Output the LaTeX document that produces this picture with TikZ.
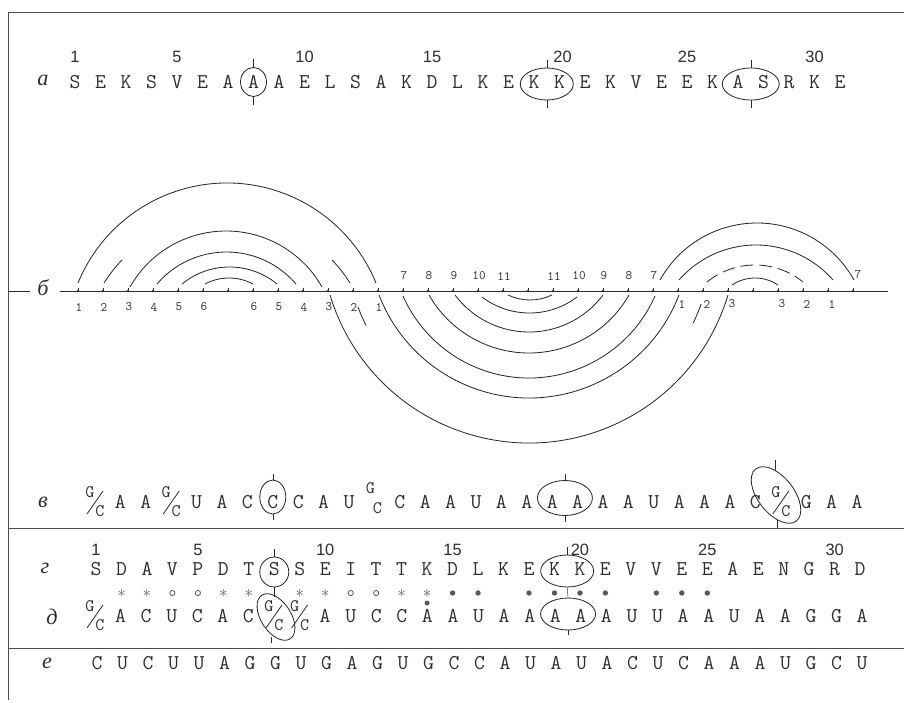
\documentclass[tikz,border=0pt]{standalone}
\usepackage{fontspec}
\usetikzlibrary{shapes.geometric,calc}
\newfontfamily\numfont{Liberation Sans}
\newfontfamily\lblfont{Liberation Serif}
\newlength\pxl
\setlength\pxl{0.03cm}
\definecolor{ink}{gray}{0.18}
\definecolor{pale}{gray}{0.35}
\tikzset{
  seq/.style={font=\ttfamily\fontsize{18}{18}\selectfont, text=ink, inner sep=0pt},
  frac/.style={font=\ttfamily\fontsize{15}{15}\selectfont, text=ink, inner sep=0pt},
  num/.style={font=\numfont\fontsize{14}{14}\selectfont, text=ink, inner sep=0pt},
  axnum/.style={font=\ttfamily\fontsize{11}{11}\selectfont, text=ink, inner sep=0pt},
  lbl/.style={font=\lblfont\itshape\fontsize{19}{19}\selectfont, text=ink, inner sep=0pt},
  starmark/.style={font=\fontsize{15}{15}\selectfont, text=pale, inner sep=0pt},
  ring/.style={draw=black!85, ellipse, inner sep=0pt, line width=0.7pt},
  frame/.style={draw=black!70, line width=0.8pt},
  bowline/.style={draw=black!85, line width=0.7pt},
}
% arc of a circle through (cx-w,base), (cx,apex), (cx+w,base), drawn from fraction #6 to #7
\newcommand{\bow}[7][]{%
  \pgfmathsetmacro\bowh{abs(#5-#4)}%
  \pgfmathsetmacro\bowr{(#3/\bowh*#3+\bowh)/2}%
  \pgfmathsetmacro\bowphi{asin(#3/\bowr)}%
  \pgfmathsetmacro\bowmid{#5<#4 ? -90 : 90}%
  \pgfmathsetmacro\bowcy{#5<#4 ? #5+\bowr : #5-\bowr}%
  \pgfmathsetmacro\bowa{\bowmid-\bowphi+2*\bowphi*#6}%
  \pgfmathsetmacro\bowb{\bowmid-\bowphi+2*\bowphi*#7}%
  \draw[bowline,#1] ([shift={(\bowa:\bowr)}]#2,\bowcy) arc[start angle=\bowa, end angle=\bowb, radius=\bowr];
}
% G over C with a slash
\newcommand{\gsc}[3]{%
  \node[frac] (#3g) at (#1-5,#2-10) {G};
  \node[frac] (#3c) at (#1+5,#2+9) {C};
  \draw[ink, line width=0.7pt] (#1-8,#2+12) -- (#1+8,#2-11);
}
% G over C, no slash
\newcommand{\gup}[3]{%
  \node[frac] (#3g) at (#1-4,#2-14) {G};
  \node[frac] (#3c) at (#1+3,#2+6) {C};
}
\begin{document}
\begin{tikzpicture}[x=0.03cm, y=-0.03cm]
\useasboundingbox (0,0) rectangle (904,702);
% Frame
\draw[frame] (8,12) -- (904,12);
\draw[frame] (8,12) -- (8,700);
\draw[frame] (8,528) -- (904,528);
\draw[frame] (8,648) -- (904,648);
% Labels
\node[lbl] (la) at (43,80) {а};
\node[lbl] (lb) at (43,288) {б};
\node[lbl] (lv) at (43,502) {в};
\node[lbl] (lg) at (45,568) {г};
\node[lbl] (ld) at (52,617) {д};
\node[lbl] (le) at (47,663) {е};

% Row a
\foreach \ch [count=\i] in {S,E,K,S,V,E,A,A,A,E,L,S,A,K,D,L,K,E,K,K,E,K,V,E,E,K,A,S,R,K,E}
  \node[seq] (a\i) at ({75+25.5*(\i-1)},82) {\ch};
\foreach \p in {1,5,10,15,20,25,30}
  \node[num] (an\p) at ({75+25.5*(\p-1)+(\p==20 ? 3 : 0)},57) {\p};
\node[ring, minimum width=26\pxl, minimum height=29\pxl] (aA) at (a8) {};
\node[ring, minimum width=53\pxl, minimum height=32\pxl] (aKK) at ($(a19)!0.5!(a20)+(0,2)$) {};
\node[ring, minimum width=57\pxl, minimum height=32\pxl] (aAS) at ($(a27)!0.5!(a28)+(0,2)$) {};
\foreach \n in {aA,aKK,aAS}{
  \draw[ink] (\n.north) -- ++(0,-8);
  \draw[ink] (\n.south) -- ++(0,8);
}

% Axis
\draw[ink, line width=0.7pt] (8,291) -- (30,291);
\draw[ink, line width=0.7pt] (60,291) -- (888,291);
\foreach \k in {0,...,31}{
  \coordinate (t\k) at ({78+25*\k},291);
  \fill[ink] (t\k) circle (1.4);
  \draw[ink] (t\k) -- ++(0,-3);
}
\foreach \k/\l in {0/1,1/2,2/3,3/4,4/5,5/6,7/6,8/5,9/4,10/3,11/2,12/1}
  \node[axnum] (bl\k) at ($(t\k)+(1,16)$) {\l};
\foreach \k/\l in {13/7,14/8,15/9,16/10,17/11,19/11,20/10,21/9,22/8,23/7}
  \node[axnum] (bm\k) at ($(t\k)+(1,-15)$) {\l};
\foreach \k/\l in {24/1,25/2,26/3,28/3,29/2,30/1}
  \node[axnum] (br\k) at ($(t\k)+(4,13)$) {\l};
\node[axnum] (br31) at ($(t31)+(5,-16)$) {7};

% Arcs above, left
\bow{227}{149}{283}{183}{0}{1}
\bow{227}{123}{283}{215}{0}{0.1}
\bow{227}{123}{283}{215}{0.9}{1}
\bow{226}{96}{287}{231}{0}{1}
\bow{226.5}{69.5}{284}{252}{0}{1}
\bow{229.5}{47.5}{284}{267}{0}{1}
\bow{229}{24}{284}{278}{0}{1}
% Arcs below
\bow{530}{22}{295}{300}{0}{1}
\bow{529.5}{47.5}{297}{313}{0}{1}
\bow{529}{74}{295}{332}{0}{1}
\bow{529}{100}{295}{353}{0}{1}
\bow{529}{126}{296}{378}{0}{1}
\bow{529}{150}{295}{398}{0}{1}
\bow{529}{175}{295}{426}{0.02}{0.065}
\bow{529}{175}{295}{426}{0.93}{0.973}
\bow{529}{199}{295}{443}{0}{1}
% Arcs above, right
\bow{757}{97}{280}{223}{0}{1}
\bow{756}{77}{280}{245}{0}{1}
\bow[dash pattern=on 11pt off 5pt]{755}{48}{282}{265}{0}{1}
\bow{755}{23}{285}{278}{0}{1}

% Row v
\foreach \ch [count=\i] in {x,A,A,x,U,A,C,C,C,A,U,y,C,A,A,U,A,A,A,A,A,A,U,A,A,A,C,x,G,A,A}{
  \pgfmathsetmacro\xx{95+25.4*(\i-1)}
  \if\ch x\gsc{\xx}{502}{v\i}\else\if\ch y\gup{\xx}{502}{v\i}\else
  \node[seq] (v\i) at (\xx,502) {\ch};\fi\fi
}
\node[ring, minimum width=26\pxl, minimum height=34\pxl] (vC) at ($(v8)+(0,-5)$) {};
\node[ring, minimum width=55\pxl, minimum height=35\pxl] (vAA) at ($(v19)!0.5!(v20)+(0,-4)$) {};
\node[ring, minimum width=66\pxl, minimum height=36\pxl, rotate=-52] (vGC) at (776,495) {};
\foreach \n in {vC,vAA}{
  \draw[ink] (\n.north) -- ++(0,-6);
  \draw[ink] (\n.south) -- ++(0,6);
}
\coordinate (vGCt) at (775,460);
\coordinate (vGCb) at (777,528);
\draw[ink] (vGCt) -- ++(0,10);
\draw[ink] (vGCb) -- ++(0,-8);

% Row g
\foreach \ch [count=\i] in {S,D,A,V,P,D,T,S,S,E,I,T,T,K,D,L,K,E,K,K,E,V,V,E,E,A,E,N,G,R,D}
  \node[seq] (g\i) at ({96+25.47*(\i-1)},569) {\ch};
\foreach \p in {1,5,10,15,20,25,30}
  \node[num] (gn\p) at ({96+25.47*(\p-1)},550) {\p};
\node[ring, minimum width=29\pxl, minimum height=30\pxl] (gS) at ($(g8)+(0,3)$) {};
\node[ring, minimum width=53\pxl, minimum height=32\pxl] (gKK) at ($(g19)!0.5!(g20)+(0,2)$) {};
\draw[ink] (gS.north) -- ++(0,-8);
\draw[ink] (gKK.north) -- ++(0,-8);

% Marks
\foreach \p in {2,3,6,7,9,10,13}
  \node[starmark] (st\p) at ({96+25.47*(\p-1)},594) {$\ast$};
\node[starmark] (st14) at ({96+25.47*13},594) {$\ast$};
\foreach \p in {4,5,11,12}
  \draw[pale, line width=0.7pt] ({96+25.47*(\p-1)},593) circle (2.6);
\foreach \p in {15,16,18,19,20,21,23,24,25}
  \fill[pale] ({96+25.47*(\p-1)},593) circle (2.7);
\fill[pale] ({96+25.47*13},603) circle (2.5);

% Row d
\foreach \ch [count=\i] in {x,A,C,U,C,A,C,x,x,A,U,C,C,A,A,U,A,A,A,A,A,U,U,A,A,U,A,A,G,G,A}{
  \pgfmathsetmacro\xx{95+25.57*(\i-1)}
  \if\ch x\gsc{\xx}{616}{d\i}\else
  \node[seq] (d\i) at (\xx,616) {\ch};\fi
}
\node[ring, minimum width=52\pxl, minimum height=30\pxl, rotate=-57] (dGC) at (276,617) {};
\node[ring, minimum width=55\pxl, minimum height=32\pxl] (dAA) at ($(d19)!0.5!(d20)+(0,-2)$) {};
\draw[ink] (gS.south) -- ++(0,10);
\draw[ink] (gKK.south) -- (dAA.north);
\draw[ink] (dAA.south) -- ++(0,5);
\coordinate (dGCb) at (271,637);
\draw[ink] (dGCb) -- ++(0,6);

% Row e
\foreach \ch [count=\i] in {C,U,C,U,U,A,G,G,U,G,A,G,U,G,C,C,A,U,A,U,A,C,U,C,A,A,A,U,G,C,U}
  \node[seq] (e\i) at ({97+25.5*(\i-1)},663) {\ch};
\end{tikzpicture}
\end{document}
